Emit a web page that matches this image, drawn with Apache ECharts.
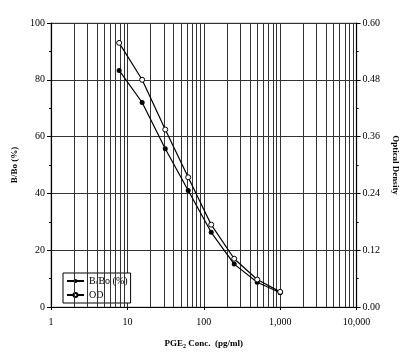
<!DOCTYPE html>
<html>
<head>
<meta charset="utf-8">
<script src="https://cdn.jsdelivr.net/npm/echarts@6/dist/echarts.min.js"></script>
<style>
  html, body { margin: 0; padding: 0; background: #fff; }
  #chart { width: 408px; height: 354px; }
</style>
</head>
<body>
<div id="chart"></div>
<script>
// PGE2 standard curve
const conc = [7.8, 15.6, 31.3, 62.5, 125, 250, 500, 1000];
const bBo = [83.3, 72.0, 55.7, 41.0, 26.3, 15.1, 8.7, 5.0];
const od = [0.558, 0.480, 0.375, 0.274, 0.174, 0.102, 0.058, 0.032];
// minor log grid lines (2..9 in each decade)
const minorX = [
	2, 3, 4, 5, 6, 7, 8, 9,
	20, 30, 40, 50, 60, 70, 80, 90,
	200, 300, 400, 500, 600, 700, 800, 900,
	2000, 3000, 4000, 5000, 6000, 7000, 8000, 9000
];

const font = "Liberation Serif";
const chart = echarts.init(document.getElementById("chart"));

const lineColor = "#000";

const option = {
	animation: false,
	textStyle: { fontFamily: font },
	grid: {
		left: 51,
		right: 48,
		top: 23,
		bottom: 43,
		show: true,
		borderColor: "#aaa",
		borderWidth: 1
	},
	legend: {
		left: 63,
		top: 273,
		orient: "vertical",
		backgroundColor: "#fff",
		borderColor: "#000",
		borderWidth: 1,
		padding: [3, 3, 3, 3],
		itemGap: 4,
		itemWidth: 17,
		itemHeight: 5,
		textStyle: { fontFamily: font, fontSize: 10, color: "#000" },
		data: ["B/Bo (%)", "OD"]
	},
	xAxis: {
		type: "log",
		logBase: 10,
		min: 1,
		max: 10000,
		name: "{b|PGE}{s|2}{b| Conc.  (pg/ml)}",
		nameLocation: "middle",
		nameGap: 32,
		nameTextStyle: {
			rich: {
				b: { fontFamily: font, fontSize: 9, fontWeight: "bold", color: "#000" },
				s: { fontFamily: font, fontSize: 6, fontWeight: "bold", color: "#000", verticalAlign: "bottom", padding: [4, 0, 0, 0] }
			}
		},
		axisLine: { lineStyle: { color: "#000", width: 1.2 } },
		axisTick: { show: true, inside: false, length: 3, lineStyle: { color: "#000" } },
		axisLabel: {
			color: "#000",
			fontSize: 10,
			margin: 10,
			formatter(v) {
				return String(Math.round(v)).replace(/\B(?=(\d{3})+(?!\d))/g, ",");
			}
		},
		splitLine: { show: true, lineStyle: { color: "#333", width: 1 } }
	},
	yAxis: [
		{
			type: "value",
			min: 0,
			max: 100,
			interval: 20,
			name: "B/Bo (%)",
			nameLocation: "middle",
			nameRotate: 90,
			nameGap: 27,
			nameTextStyle: { fontFamily: font, fontSize: 9, fontWeight: "bold", color: "#000" },
			axisLine: { show: true, lineStyle: { color: "#000", width: 1.2 } },
			axisTick: { show: true, inside: false, length: 4, lineStyle: { color: "#000" } },
			minorTick: { show: true, splitNumber: 2, length: 2, lineStyle: { color: "#000" } },
			axisLabel: { color: "#000", fontSize: 10, margin: 6 },
			splitLine: { show: true, lineStyle: { color: "#333", width: 1 } }
		},
		{
			type: "value",
			min: 0,
			max: 0.6,
			interval: 0.12,
			name: "Optical Density",
			nameLocation: "middle",
			nameRotate: -90,
			nameGap: 31,
			nameTextStyle: { fontFamily: font, fontSize: 9, fontWeight: "bold", color: "#000" },
			axisLine: { show: true, lineStyle: { color: "#000", width: 1.2 } },
			axisTick: { show: true, inside: false, length: 4, lineStyle: { color: "#000" } },
			minorTick: { show: true, splitNumber: 2, length: 2, lineStyle: { color: "#000" } },
			axisLabel: {
				color: "#000",
				fontSize: 10,
				margin: 6,
				formatter: (v) => v.toFixed(2)
			},
			splitLine: { show: false }
		}
	],
	series: [
		{
			name: "grid",
			type: "line",
			data: [],
			silent: true,
			markLine: {
				silent: true,
				symbol: "none",
				label: { show: false },
				lineStyle: { color: "#333", width: 1, type: "solid" },
				data: minorX.map((x) => ({ xAxis: x }))
			}
		},
		{
			name: "B/Bo (%)",
			type: "line",
			yAxisIndex: 0,
			data: conc.map((c, i) => [c, bBo[i]]),
			symbol: "circle",
			symbolSize: 5,
			itemStyle: { color: lineColor },
			lineStyle: { color: lineColor, width: 1.2 },
			z: 5
		},
		{
			name: "OD",
			type: "line",
			yAxisIndex: 1,
			data: conc.map((c, i) => [c, od[i]]),
			symbol: "circle",
			symbolSize: 5,
			itemStyle: { color: "#fff", borderColor: lineColor, borderWidth: 1 },
			lineStyle: { color: lineColor, width: 1.2 },
			z: 5
		}
	]
};

option && chart.setOption(option);
</script>
</body>
</html>
